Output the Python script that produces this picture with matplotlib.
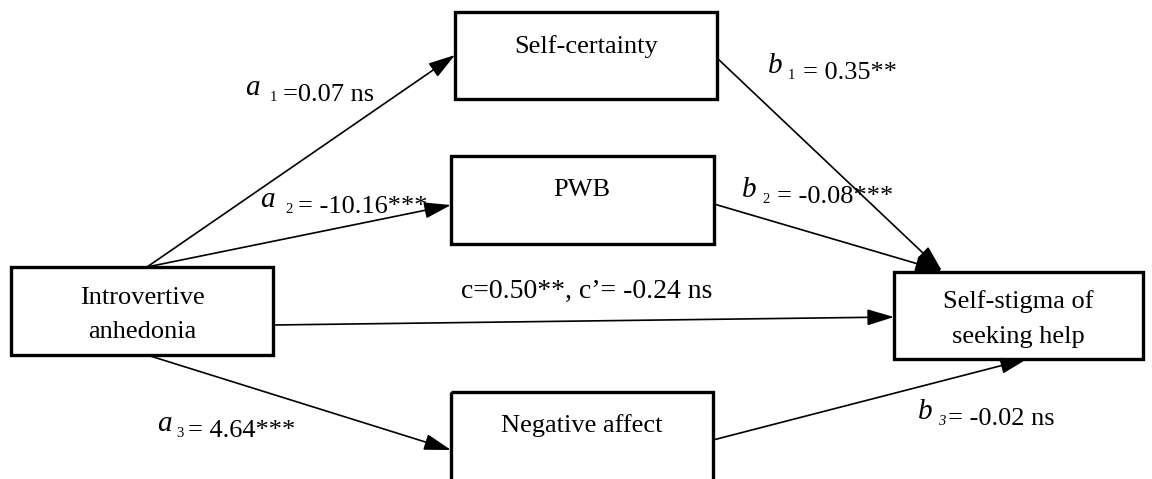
import matplotlib
matplotlib.use("Agg")
import matplotlib.pyplot as plt
from matplotlib.patches import Rectangle

plt.rcParams['font.family'] = ['Liberation Serif', 'DejaVu Serif']

# ---- data ----
node_names = ["Introvertive\nanhedonia", "Self-certainty", "PWB", "Negative affect",
              "Self-stigma of\nseeking help"]
a_paths = ["1", "2", "3"]
a_values = ["=0.07 ns", "= -10.16***", "= 4.64***"]
b_values = ["= 0.35**", "= -0.08***", "= -0.02 ns"]
c_label = "c=0.50**, c\u2019= -0.24 ns"

W, H = 1152, 479
fig = plt.figure(figsize=(W / 100, H / 100), dpi=100)
ax = fig.add_axes([0, 0, 1, 1])
ax.set_xlim(0, W)
ax.set_ylim(H, 0)
ax.axis('off')

# box layout: (x0, y0, x1, y1)
boxes = {
    "X": (11, 267, 273, 355),
    "M1": (455, 12, 717, 99),
    "M2": (451, 156, 714, 244),
    "M3": (451, 392, 713, 485),
    "Y": (894, 272, 1143, 359),
}
text_pos = {
    "X": (142, 315),
    "M1": (586, 47),
    "M2": (582, 190),
    "M3": (582, 426),
    "Y": (1018, 319),
}
keys = ["X", "M1", "M2", "M3", "Y"]
FS = 19
for k, name in zip(keys, node_names):
    x0, y0, x1, y1 = boxes[k]
    ax.add_patch(Rectangle((x0, y0), x1 - x0, y1 - y0, fill=False, lw=2.4,
                           edgecolor='black', clip_on=False))
    tx, ty = text_pos[k]
    ax.text(tx, ty, name, ha='center', va='center', fontsize=FS, linespacing=1.75)

def arrow(p0, p1):
    ax.annotate("", xy=p1, xytext=p0,
                arrowprops=dict(arrowstyle='-|>,head_length=1.65,head_width=0.5',
                                lw=1.2, color='black', shrinkA=0, shrinkB=0))

arrow((147, 267), (455, 55))
arrow((147, 267), (451, 205))
arrow((273, 325), (894, 317))
arrow((147, 355), (451, 450))
arrow((717, 58), (942, 271))
arrow((714, 204), (942, 271))
arrow((713, 440), (1027, 359))

def path_label(x, y, letter, sub, value, sub_off, val_off, italic_sub=False):
    t = ax.text(x, y, letter, fontsize=FS + 2, style='italic', ha='left', va='baseline')
    ax.annotate(sub, xycoords=t, xy=(1, 0), xytext=(sub_off, 0), textcoords='offset points',
                fontsize=10.5, style='italic' if italic_sub else 'normal',
                ha='left', va='baseline')
    ax.annotate(value, xycoords=t, xy=(1, 0), xytext=(val_off, 0),
                textcoords='offset points', fontsize=FS, ha='left', va='baseline')

path_label(245, 95, "a", a_paths[0], a_values[0], 7, 17)
path_label(260, 207, "a", a_paths[1], a_values[1], 8, 17)
path_label(157, 431, "a", a_paths[2], a_values[2], 3, 12)
path_label(768, 73, "b", a_paths[0], b_values[0], 4, 15)
path_label(742, 197, "b", a_paths[1], b_values[1], 4, 15)
path_label(918, 419, "b", a_paths[2], b_values[2], 4, 11, italic_sub=True)

ax.text(587, 298, c_label, fontsize=20, ha='center', va='baseline')

fig.savefig("out.png", dpi=100)
